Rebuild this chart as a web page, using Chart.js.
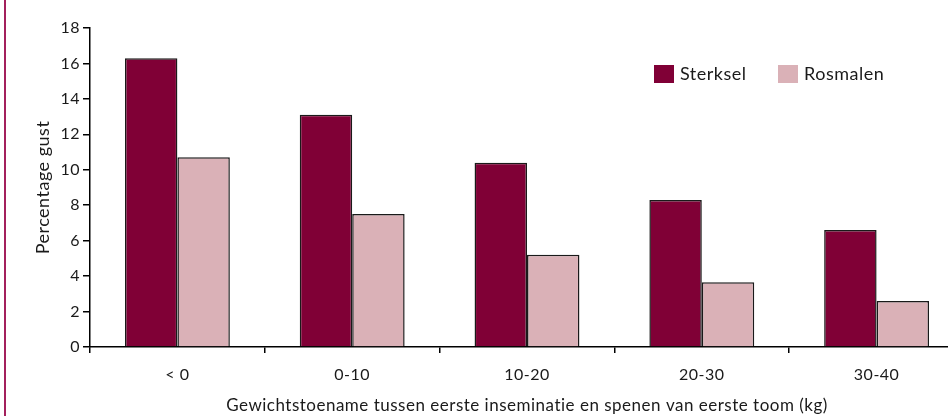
<!DOCTYPE html>
<html>
<head>
<meta charset="utf-8">
<script src="https://cdn.jsdelivr.net/npm/chart.js@4.4.1/dist/chart.umd.min.js"></script>
<style>
    html, body { margin: 0; padding: 0; background: #fff; overflow: hidden; }
    body { width: 948px; height: 416px; position: relative; }
    #rand { position: absolute; left: 4px; top: 0; width: 2px; height: 416px; background: #a3205c; }
    #wrap { position: absolute; left: 0; top: 0; width: 1000px; height: 416px; }
</style>
</head>
<body>
<div id="rand"></div>
<div id="wrap"><canvas id="gustChart"></canvas></div>
<script>
const categories = ['< 0', '0-10', '10-20', '20-30', '30-40'];
const sterksel = [16.3, 13.1, 10.4, 8.3, 6.6];
const rosmalen = [10.7, 7.5, 5.2, 3.65, 2.6];
const yTicks = [0, 2, 4, 6, 8, 10, 12, 14, 16, 18];

const fontFamily = 'Lato, "DejaVu Sans", sans-serif';
const textColor = '#1a1a1a';

// wat extra letterafstand, het origineel loopt breder
const spacing = {
    id: 'spacing',
    beforeLayout(chart) { chart.ctx.letterSpacing = '0.5px'; },
    beforeDraw(chart) { chart.ctx.letterSpacing = '0.5px'; }
};

// legenda binnen het grafiekvlak
const legendInside = {
    id: 'legendInside',
    afterDraw(chart) {
        const ctx = chart.ctx;
        const area = chart.chartArea;
        const items = [
            { x: area.left + 564, ds: chart.data.datasets[0] },
            { x: area.left + 688, ds: chart.data.datasets[1] }
        ];
        const y = area.top + 37;
        ctx.save();
        ctx.font = '18px ' + fontFamily;
        ctx.textBaseline = 'middle';
        items.forEach(it => {
            ctx.fillStyle = it.ds.backgroundColor;
            ctx.fillRect(it.x, y, 20, 18);
            ctx.fillStyle = textColor;
            ctx.fillText(it.ds.label, it.x + 26, y + 9);
        });
        ctx.restore();
    }
};

const ctxGust = document.getElementById('gustChart').getContext('2d');
const gustChart = new Chart(ctxGust, {
    type: 'bar',
    data: {
        labels: categories,
        datasets: [
            {
                label: 'Sterksel',
                data: sterksel,
                backgroundColor: '#800036',
                borderColor: '#1a1a1a',
                borderWidth: 1.5
            },
            {
                label: 'Rosmalen',
                data: rosmalen,
                backgroundColor: '#dab1b7',
                borderColor: '#1a1a1a',
                borderWidth: 1.5
            }
        ]
    },
    options: {
        responsive: true,
        maintainAspectRatio: false,
        animation: false,
        layout: { padding: { top: 28, right: 36, left: 0, bottom: 0 } },
        datasets: {
            bar: { categoryPercentage: 0.6, barPercentage: 1.0 }
        },
        plugins: {
            legend: { display: false },
            tooltip: { enabled: false }
        },
        scales: {
            x: {
                grid: { drawOnChartArea: false, color: '#000', lineWidth: 1.5, tickLength: 6 },
                border: { color: '#000', width: 1.5 },
                ticks: { color: textColor, font: { family: fontFamily, size: 16 }, padding: 12 },
                title: {
                    display: true,
                    text: 'Gewichtstoename tussen eerste inseminatie en spenen van eerste toom (kg)',
                    color: textColor,
                    font: { family: fontFamily, size: 17 },
                    padding: { top: 0, bottom: 0 }
                },
                afterFit(scale) { scale.height = 69; }
            },
            y: {
                min: 0,
                max: 18,
                afterBuildTicks(scale) { scale.ticks = yTicks.map(v => ({ value: v })); },
                grid: { drawOnChartArea: false, color: '#000', lineWidth: 1.5, tickLength: 7 },
                border: { color: '#000', width: 1.5 },
                ticks: { color: textColor, font: { family: fontFamily, size: 16 }, padding: 3 },
                title: {
                    display: true,
                    text: 'Percentage gust',
                    color: textColor,
                    font: { family: fontFamily, size: 18 },
                    padding: { top: 32, bottom: 0 }
                },
                afterFit(scale) { scale.width = 90; }
            }
        }
    },
    plugins: [spacing, legendInside]
});
</script>
</body>
</html>
